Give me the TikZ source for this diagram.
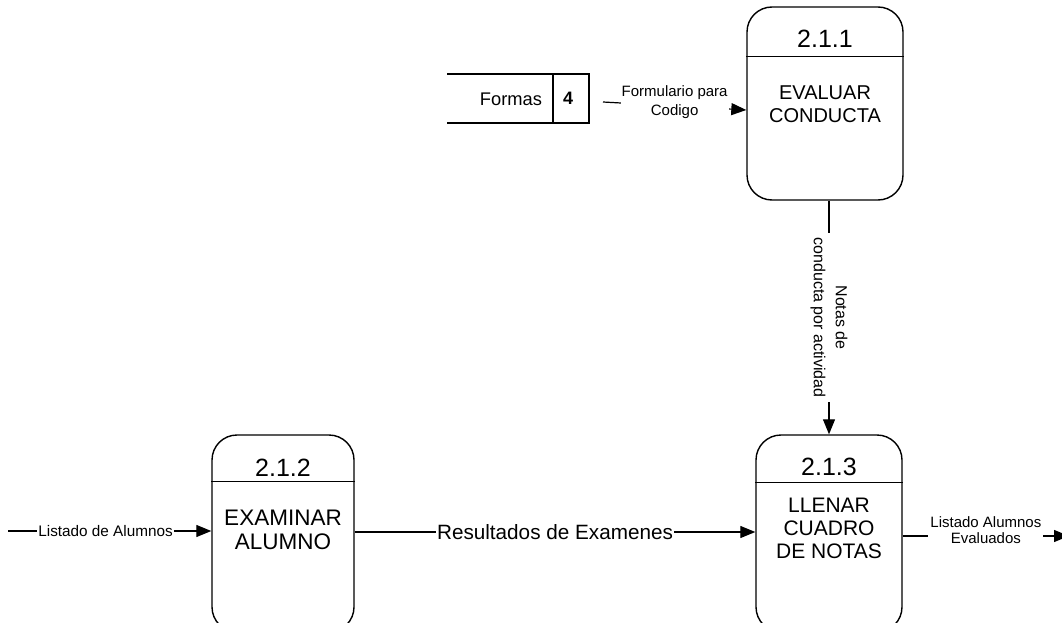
\documentclass[tikz,border=0pt]{standalone}
\usepackage{fontspec}
\setmainfont{Liberation Sans}
\usetikzlibrary{arrows.meta,calc}

\begin{document}
\begin{tikzpicture}[x=1pt,y=-1pt,
  proc/.style n args={2}{draw, line width=1.4pt, rounded corners=25pt,
    minimum width=#1, minimum height=#2, inner sep=0pt},
  divider/.style={line width=1.4pt},
  store/.style={line width=1.4pt},
  flow/.style={line width=1.2pt, -{Triangle[length=15pt,width=12pt]}},
  idtext/.style={font=\fontsize{25}{28}\selectfont, inner sep=0pt},
  lbl/.style={fill=white, inner sep=1.5pt, align=center,
    font=\fontsize{15}{19}\selectfont}
]
\clip (0,0) rectangle (1062,623);

% processes
\node[proc={156pt}{193pt}] (p211) at (825,103.5) {};
\node[proc={142pt}{197pt}] (p212) at (283,533.5) {};
\node[proc={146pt}{197pt}] (p213) at (829,533.5) {};

\draw[divider] ($(p211.north west)+(0,50)$) -- ($(p211.north east)+(0,50)$);
\draw[divider] ($(p212.north west)+(0,47)$) -- ($(p212.north east)+(0,47)$);
\draw[divider] ($(p213.north west)+(0,48)$) -- ($(p213.north east)+(0,48)$);

\node[idtext] (id211) at (825,38.5) {2.1.1};
\node[idtext] (id212) at (283,468) {2.1.2};
\node[idtext] (id213) at (829,466.5) {2.1.3};

\node[align=center, inner sep=0pt, font=\fontsize{20}{22.5}\selectfont]
  (t211) at (825,104) {EVALUAR\\CONDUCTA};
\node[align=center, inner sep=0pt, font=\fontsize{22.5}{24}\selectfont]
  (t212) at (283,530) {EXAMINAR\\ALUMNO};
\node[align=center, inner sep=0pt, font=\fontsize{21}{23}\selectfont]
  (t213) at (829,528) {LLENAR\\CUADRO\\DE NOTAS};

% data store
\draw[store] (447,74) -- (589,74) -- (589,123) -- (447,123);
\draw[store] (553,74) -- (553,123);
\node[font=\fontsize{18.3}{20}\selectfont, inner sep=0pt] (fs) at (511,99.5) {Formas};
\node[font=\bfseries\fontsize{18}{20}\selectfont, inner sep=0pt] (fn) at (568,98.5) {4};

% flows
\coordinate (f1) at (603,102);
\draw[flow] (f1) -- node[lbl, pos=0.5, yshift=3.5pt, inner sep=1pt] {Formulario para\\Codigo}
  ($(p211.west)+(0,6.5)$);

\draw[flow] (p211.south -| p213.north) --
  node[lbl, pos=0.5, rotate=-90, inner sep=4pt, font=\fontsize{16}{22}\selectfont]
  {Notas de\\conducta por actividad} (p213.north);

\coordinate (in212) at (8,531);
\draw[flow] (in212) -- node[lbl, pos=0.48, inner sep=1pt, font=\fontsize{15.3}{18}\selectfont]
  {Listado de Alumnos} (in212 -| p212.west);

\draw[flow] ($(p212.east)+(0,-1.5)$) --
  node[lbl, pos=0.5, font=\fontsize{20.7}{24}\selectfont] {Resultados de Examenes}
  ($(p213.west)+(0,-1.5)$);

\coordinate (out213) at (1069,536);
\draw[flow] (p213.east |- out213) --
  node[lbl, pos=0.5, yshift=6pt, inner sep=2pt, font=\fontsize{15}{16}\selectfont]
  {Listado Alumnos\\Evaluados} (out213);
\end{tikzpicture}
\end{document}
